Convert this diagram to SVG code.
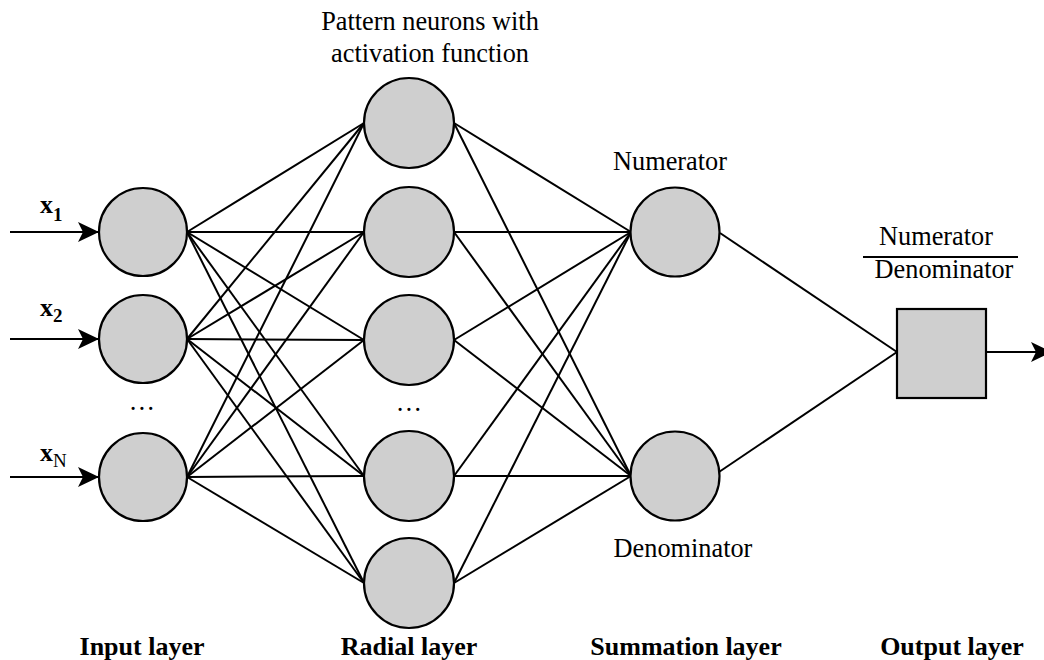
<svg xmlns="http://www.w3.org/2000/svg" width="1044" height="660" viewBox="0 0 1044 660">
<style>
.n{fill:#cfcfcf;stroke:#000;stroke-width:2.2}
.c{stroke:#000;stroke-width:2;fill:none}
.t{font-family:"Liberation Serif","Times New Roman",serif;font-size:26.3px;fill:#000}
.b{font-family:"Liberation Serif","Times New Roman",serif;font-size:26px;font-weight:bold;fill:#000}
</style>
<defs>
<marker id="ah" markerWidth="22" markerHeight="20" refX="21" refY="10" orient="auto" markerUnits="userSpaceOnUse">
<path d="M0,0 L21,10 L0,20 L5,10 Z" fill="#000"/>
</marker>
</defs>
<rect width="1044" height="660" fill="#fff"/>
<g id="connectors">
<line class="c" x1="10" y1="232" x2="99" y2="232" marker-end="url(#ah)"/>
<line class="c" x1="10" y1="339" x2="99" y2="339" marker-end="url(#ah)"/>
<line class="c" x1="10" y1="477" x2="99" y2="477" marker-end="url(#ah)"/>
<g>
<line class="c" x1="187" y1="232" x2="364" y2="123"/>
<line class="c" x1="187" y1="232" x2="364" y2="232"/>
<line class="c" x1="187" y1="232" x2="364" y2="340"/>
<line class="c" x1="187" y1="232" x2="364" y2="476"/>
<line class="c" x1="187" y1="232" x2="364" y2="583"/>
<line class="c" x1="187" y1="339" x2="364" y2="123"/>
<line class="c" x1="187" y1="339" x2="364" y2="232"/>
<line class="c" x1="187" y1="339" x2="364" y2="340"/>
<line class="c" x1="187" y1="339" x2="364" y2="476"/>
<line class="c" x1="187" y1="339" x2="364" y2="583"/>
<line class="c" x1="187" y1="477" x2="364" y2="123"/>
<line class="c" x1="187" y1="477" x2="364" y2="232"/>
<line class="c" x1="187" y1="477" x2="364" y2="340"/>
<line class="c" x1="187" y1="477" x2="364" y2="476"/>
<line class="c" x1="187" y1="477" x2="364" y2="583"/>
</g>
<g>
<line class="c" x1="454" y1="123" x2="631" y2="232"/>
<line class="c" x1="454" y1="123" x2="631" y2="476"/>
<line class="c" x1="454" y1="232" x2="631" y2="232"/>
<line class="c" x1="454" y1="232" x2="631" y2="476"/>
<line class="c" x1="454" y1="340" x2="631" y2="232"/>
<line class="c" x1="454" y1="340" x2="631" y2="476"/>
<line class="c" x1="454" y1="476" x2="631" y2="232"/>
<line class="c" x1="454" y1="476" x2="631" y2="476"/>
<line class="c" x1="454" y1="583" x2="631" y2="232"/>
<line class="c" x1="454" y1="583" x2="631" y2="476"/>
</g>
<line class="c" x1="720" y1="233" x2="897" y2="352"/>
<line class="c" x1="719" y1="472" x2="897" y2="352"/>
<line class="c" x1="986" y1="352" x2="1052" y2="352" marker-end="url(#ah)"/>
</g>
<g id="input1"><circle class="n" cx="143" cy="232" r="44"/></g>
<g id="input2"><circle class="n" cx="143" cy="339" r="44"/></g>
<g id="input3"><circle class="n" cx="143" cy="477" r="44"/></g>
<g id="radial1"><circle class="n" cx="409" cy="123" r="45"/></g>
<g id="radial2"><circle class="n" cx="409" cy="232" r="45"/></g>
<g id="radial3"><circle class="n" cx="409" cy="340" r="45"/></g>
<g id="radial4"><circle class="n" cx="409" cy="476" r="45"/></g>
<g id="radial5"><circle class="n" cx="409" cy="583" r="45"/></g>
<g id="numerator"><circle class="n" cx="675" cy="232" r="44.5"/></g>
<g id="denominator"><circle class="n" cx="675" cy="476" r="44.5"/></g>
<g id="output"><rect class="n" x="897" y="309" width="89" height="89"/></g>
<g id="labels">
<text class="b" x="40" y="213">x<tspan font-size="19" dy="8">1</tspan></text>
<text class="b" x="40" y="316">x<tspan font-size="19" dy="6">2</tspan></text>
<text class="b" x="40" y="461">x<tspan font-size="19" dy="6" font-weight="normal">N</tspan></text>
<text class="t" x="142" y="410" text-anchor="middle">…</text>
<text class="t" x="409" y="411" text-anchor="middle">…</text>
<text class="t" x="430" y="30" text-anchor="middle">Pattern neurons with</text>
<text class="t" x="430" y="62" text-anchor="middle">activation function</text>
<text class="t" x="670" y="170" text-anchor="middle">Numerator</text>
<text class="t" x="683" y="557" text-anchor="middle">Denominator</text>
<text class="t" x="936" y="245" text-anchor="middle">Numerator</text>
<line x1="863" y1="257" x2="1018" y2="257" stroke="#000" stroke-width="2"/>
<text class="t" x="944" y="278" text-anchor="middle">Denominator</text>
<text class="b" x="142" y="655" text-anchor="middle">Input layer</text>
<text class="b" x="409" y="655" text-anchor="middle">Radial layer</text>
<text class="b" x="686" y="655" text-anchor="middle">Summation layer</text>
<text class="b" x="952" y="655" text-anchor="middle">Output layer</text>
</g>
</svg>
